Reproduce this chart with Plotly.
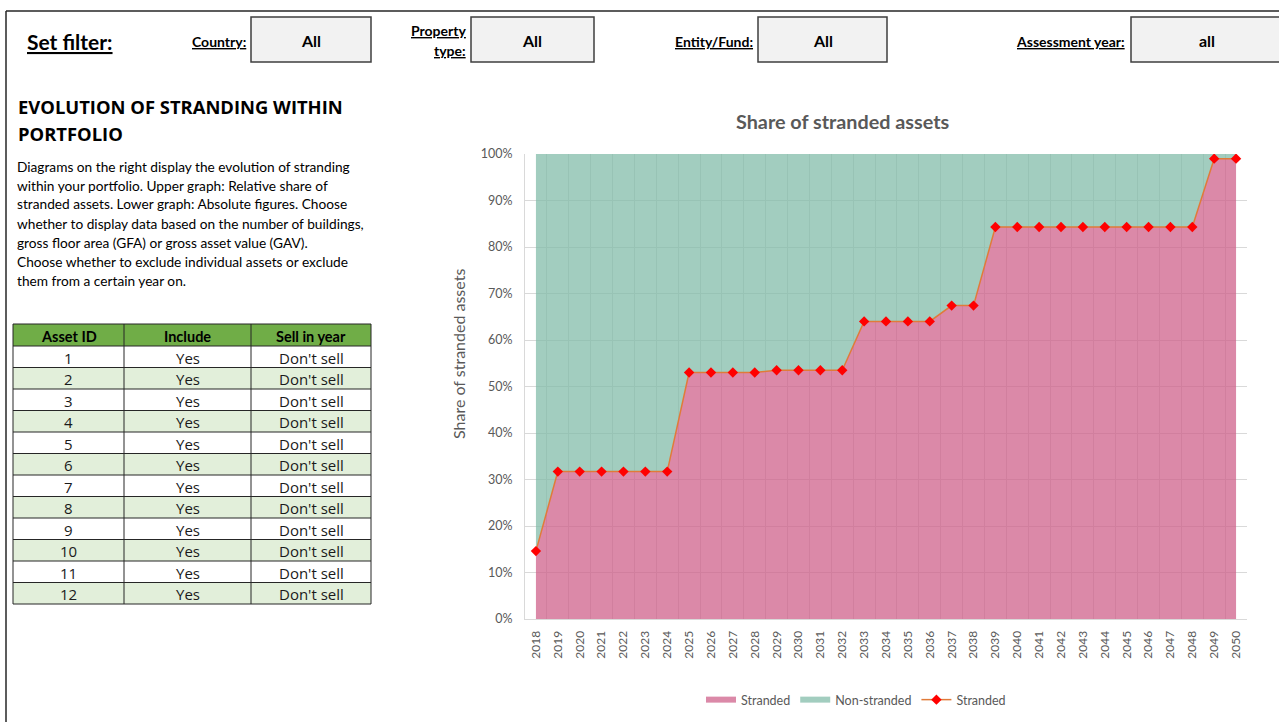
import plotly.graph_objects as go

# ---------------- data ----------------
years = [2018, 2019, 2020, 2021, 2022, 2023, 2024, 2025, 2026, 2027, 2028,
         2029, 2030, 2031, 2032, 2033, 2034, 2035, 2036, 2037, 2038, 2039,
         2040, 2041, 2042, 2043, 2044, 2045, 2046, 2047, 2048, 2049, 2050]
stranded = [14.6, 31.7, 31.7, 31.7, 31.7, 31.7, 31.7, 53.0, 53.0, 53.0, 53.0,
            53.5, 53.5, 53.5, 53.5, 64.0, 64.0, 64.0, 64.0, 67.4, 67.4, 84.3,
            84.3, 84.3, 84.3, 84.3, 84.3, 84.3, 84.3, 84.3, 84.3, 99.0, 99.0]
non_stranded = [85.4, 68.3, 68.3, 68.3, 68.3, 68.3, 68.3, 47.0, 47.0, 47.0, 47.0,
                46.5, 46.5, 46.5, 46.5, 36.0, 36.0, 36.0, 36.0, 32.6, 32.6, 15.7,
                15.7, 15.7, 15.7, 15.7, 15.7, 15.7, 15.7, 15.7, 15.7, 1.0, 1.0]
y_ticks = [0, 10, 20, 30, 40, 50, 60, 70, 80, 90, 100]
y_tick_labels = ["0%", "10%", "20%", "30%", "40%", "50%", "60%", "70%", "80%", "90%", "100%"]

asset_ids = ["1", "2", "3", "4", "5", "6", "7", "8", "9", "10", "11", "12"]
include = ["Yes"] * 12
sell_in_year = ["Don't sell"] * 12
table_headers = ["Asset ID", "Include", "Sell in year"]

filter_labels = ["Country:", "Property<br>type:", "Entity/Fund:", "Assessment year:"]
filter_values = ["All", "All", "All", "all"]

description = [
    "Diagrams on the right display the evolution of stranding",
    "within your portfolio. Upper graph: Relative share of",
    "stranded assets. Lower graph: Absolute figures. Choose",
    "whether to display data based on the number of buildings,",
    "gross floor area (GFA) or gross asset value (GAV).",
    "Choose whether to exclude individual assets or exclude",
    "them from a certain year on.",
]

W, H = 1279, 722
def px(x):
    return x / W
def py(y):
    return 1 - y / H

GRAY = "#595959"
FONT = "Lato"

fig = go.Figure()

fig.add_trace(go.Scatter(
    x=years, y=stranded, name="Stranded", stackgroup="one", mode="none",
    fillcolor="rgba(206,96,137,0.74)", hoverinfo="x+y"))
fig.add_trace(go.Scatter(
    x=years, y=non_stranded, name="Non-stranded", stackgroup="one", mode="none",
    fillcolor="rgba(129,187,169,0.74)", hoverinfo="x+y"))
fig.add_trace(go.Scatter(
    x=years, y=stranded, name="Stranded", mode="lines+markers",
    line=dict(color="#E07B39", width=1.5),
    marker=dict(symbol="diamond", size=8, color="#FF0000")))

x_domain = [px(525), px(1247)]
y_domain = [py(619), py(154)]

fig.update_layout(
    width=W, height=H,
    margin=dict(l=0, r=0, t=0, b=0, autoexpand=False),
    paper_bgcolor="white", plot_bgcolor="white",
    font=dict(family=FONT, color=GRAY),
    showlegend=True,
    legend=dict(orientation="h", x=px(856), xanchor="center", y=py(700), yanchor="middle",
                font=dict(size=12.5, color=GRAY), tracegroupgap=0, traceorder="normal"),
    xaxis=dict(domain=x_domain, range=[2017.5, 2050.5], tickmode="array",
               tickvals=years, ticktext=[str(y) for y in years], tickangle=-90,
               tickfont=dict(size=12, color=GRAY), showgrid=False, automargin=False,
               minor=dict(tick0=2017.5, dtick=1, showgrid=True, gridcolor="#D9D9D9",
                          gridwidth=1, ticklen=0),
               showline=True, linecolor="#D9D9D9", zeroline=False, ticks="",
               ticklabelstandoff=6),
    yaxis=dict(domain=y_domain, range=[0, 100], tickmode="array",
               tickvals=y_ticks, ticktext=y_tick_labels, automargin=False,
               tickfont=dict(size=12.5, color=GRAY), showgrid=True, gridcolor="#D9D9D9",
               showline=True, linecolor="#D9D9D9", zeroline=False, ticks="",
               ticklabelstandoff=9),
)

shapes = []
ann = []
# frame
shapes.append(dict(type="line", x0=px(6), x1=1, y0=py(11), y1=py(11),
                   line=dict(color="#262626", width=1.5)))
shapes.append(dict(type="line", x0=px(6), x1=px(6), y0=py(11), y1=0,
                   line=dict(color="#262626", width=1.5)))
# filter boxes
boxes = [(251, 371), (471, 594), (758, 887), (1131, 1285)]
for (x0, x1) in boxes:
    shapes.append(dict(type="rect", x0=px(x0), x1=px(x1), y0=py(62), y1=py(17),
                       fillcolor="#F2F2F2", line=dict(color="#3F3F3F", width=1.5)))

# ---- table drawn from the lists ----
col_edges = [13, 124, 251, 371]
header_top, header_h, row_h = 324, 22, 21.5
columns = [asset_ids, include, sell_in_year]
n_rows = len(asset_ids)
shapes.append(dict(type="rect", x0=px(col_edges[0]), x1=px(col_edges[-1]),
                   y0=py(header_top + header_h), y1=py(header_top),
                   fillcolor="#70AD47", line=dict(width=0), layer="below"))
for r in range(n_rows):
    top = header_top + header_h + r * row_h
    shapes.append(dict(type="rect", x0=px(col_edges[0]), x1=px(col_edges[-1]),
                       y0=py(top + row_h), y1=py(top),
                       fillcolor="#FFFFFF" if r % 2 == 0 else "#E2EFDA",
                       line=dict(width=0), layer="below"))
bottom = header_top + header_h + n_rows * row_h
for yy in [header_top, header_top + header_h] + [header_top + header_h + (r + 1) * row_h for r in range(n_rows)]:
    shapes.append(dict(type="line", x0=px(col_edges[0]), x1=px(col_edges[-1]), y0=py(yy), y1=py(yy),
                       line=dict(color="#262626", width=1)))
for xx in col_edges:
    shapes.append(dict(type="line", x0=px(xx), x1=px(xx), y0=py(header_top), y1=py(bottom),
                       line=dict(color="#262626", width=1)))
for c, h in enumerate(table_headers):
    cx = (col_edges[c] + col_edges[c + 1]) / 2
    ann.append(dict(text="<b>%s</b>" % h, x=px(cx), y=py(header_top + header_h / 2 + 1),
                    xanchor="center", yanchor="middle",
                    font=dict(family=FONT, size=14.5, color="#000000")))
    for r in range(n_rows):
        cy = header_top + header_h + r * row_h + row_h / 2 + 1
        ann.append(dict(text=columns[c][r], x=px(cx), y=py(cy), xanchor="center", yanchor="middle",
                        font=dict(family="Open Sans", size=15, color="#1a1a1a")))

# filter texts
ann.append(dict(text="<b><u>Set filter:</u></b>", x=px(25), y=py(41), xanchor="left",
                yanchor="middle", font=dict(family=FONT, size=21, color="#000000")))
label_right = [248, 468, 755, 1127]
value_x = [311, 532, 823, 1207]
for i, lab in enumerate(filter_labels):
    if "<br>" in lab:
        a, b = lab.split("<br>")
        ann.append(dict(text="<b><u>%s</u></b>" % a, x=px(label_right[i]), y=py(30), xanchor="right",
                        yanchor="middle", font=dict(family=FONT, size=14, color="#000000")))
        ann.append(dict(text="<b><u>%s</u></b>" % b, x=px(label_right[i]), y=py(51), xanchor="right",
                        yanchor="middle", font=dict(family=FONT, size=14, color="#000000")))
    else:
        ann.append(dict(text="<b><u>%s</u></b>" % lab, x=px(label_right[i]), y=py(41), xanchor="right",
                        yanchor="middle", font=dict(family=FONT, size=14, color="#000000")))
    ann.append(dict(text="<b>%s</b>" % filter_values[i], x=px(value_x[i]), y=py(40), xanchor="center",
                    yanchor="middle", font=dict(family=FONT, size=16, color="#000000")))

ann.append(dict(text="<b>EVOLUTION OF STRANDING WITHIN</b>", x=px(16), y=py(106), xanchor="left",
                yanchor="middle", font=dict(family="Open Sans", size=18.4, color="#000000")))
ann.append(dict(text="<b>PORTFOLIO</b>", x=px(16), y=py(133), xanchor="left",
                yanchor="middle", font=dict(family="Open Sans", size=18.4, color="#000000")))
for i, line in enumerate(description):
    ann.append(dict(text=line, x=px(15), y=py(166 + 19 * i), xanchor="left", yanchor="middle",
                    font=dict(family=FONT, size=13.7, color="#000000")))

ann.append(dict(text="<b>Share of stranded assets</b>", x=px(843), y=py(121), xanchor="center",
                yanchor="middle", font=dict(family=FONT, size=19.8, color=GRAY)))
ann.append(dict(text="Share of stranded assets", x=px(458), y=py(354), xanchor="center",
                yanchor="middle", textangle=-90, font=dict(family=FONT, size=16, color=GRAY)))

for s in shapes:
    s.update(xref="paper", yref="paper")
for a in ann:
    a.update(xref="paper", yref="paper", showarrow=False)
fig.update_layout(shapes=shapes, annotations=ann)

post = ("document.body.style.margin='0';document.body.style.overflow='hidden';"
        "var gd=document.getElementById('{plot_id}');"
        "gd.style.position='absolute';gd.style.left='0px';gd.style.top='0px';")
fig.write_html("out.html", post_script=post, config={"displayModeBar": False})
